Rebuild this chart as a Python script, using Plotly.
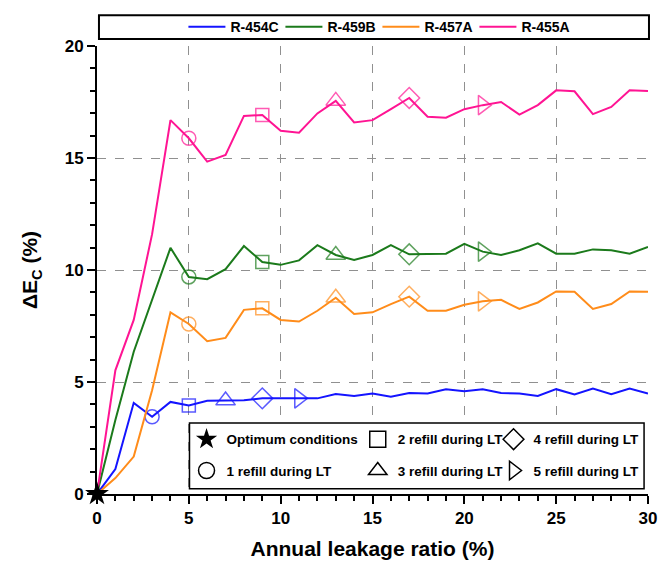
import plotly.graph_objects as go

# ---------------- data ----------------
leak = list(range(0, 31))
r454c = [0, 1.11, 4.07, 3.45, 4.11, 3.95, 4.16, 4.17, 4.19, 4.27, 4.27, 4.27, 4.27, 4.46, 4.38, 4.49,
         4.34, 4.51, 4.49, 4.68, 4.59, 4.68, 4.51, 4.49, 4.38, 4.68, 4.44, 4.71, 4.46, 4.71, 4.49]
r459b = [0, 3.3, 6.35, 8.72, 10.99, 9.69, 9.59, 10.04, 11.07, 10.36, 10.23, 10.43, 11.11, 10.67, 10.45, 10.67,
         11.11, 10.70, 10.73, 10.73, 11.17, 10.82, 10.67, 10.88, 11.19, 10.73, 10.73, 10.92, 10.88, 10.73, 11.03]
r457a = [0, 0.71, 1.67, 4.63, 8.11, 7.59, 6.82, 6.97, 8.22, 8.29, 7.77, 7.70, 8.18, 8.76, 8.04, 8.11,
         8.48, 8.81, 8.18, 8.18, 8.45, 8.60, 8.67, 8.26, 8.55, 9.04, 9.03, 8.26, 8.48, 9.04, 9.03]
r455a = [0, 5.52, 7.77, 11.6, 16.69, 15.88, 14.84, 15.14, 16.88, 16.92, 16.22, 16.13, 16.99, 17.55, 16.59, 16.69,
         17.18, 17.68, 16.84, 16.80, 17.18, 17.36, 17.50, 16.94, 17.36, 18.02, 17.98, 16.96, 17.28, 18.02, 17.99]

series_names = ["R-454C", "R-459B", "R-457A", "R-455A"]
series_values = [r454c, r459b, r457a, r455a]
series_colors = ["#1414ff", "#1b7a1b", "#ff8c1a", "#ff1493"]
# indices (leakage ratio) where refill markers are drawn
refill_idx = [[3, 5, 7, 9, 11], [5, 9, 13, 17, 21], [5, 9, 13, 17, 21], [5, 9, 13, 17, 21]]
refill_symbols = ["circle-open", "square-open", "triangle-up-open", "diamond-open", "triangle-right-open"]
refill_sizes = [14, 13, 17, 16, 17]

legend_labels = ["Optimum conditions", "1 refill during LT", "2 refill during LT",
                 "3 refill during LT", "4 refill during LT", "5 refill during LT"]
legend_symbols = ["star", "circle-open", "square-open", "triangle-up-open", "diamond-open", "triangle-right-open"]

FONT = "Liberation Sans, Arial, sans-serif"

fig = go.Figure()

for name, vals, col, idx in zip(series_names, series_values, series_colors, refill_idx):
    fig.add_trace(go.Scatter(x=leak, y=vals, mode="lines", name=name,
                             line=dict(color=col, width=2), legend="legend"))
    fig.add_trace(go.Scatter(x=[leak[i] for i in idx], y=[vals[i] for i in idx], mode="markers",
                             showlegend=False, cliponaxis=False,
                             marker=dict(symbol=refill_symbols, size=refill_sizes, color=col,
                                         line=dict(color=col, width=1.5))))

# optimum point
fig.add_trace(go.Scatter(x=[leak[0]], y=[r454c[0]], mode="markers", name=legend_labels[0],
                         marker=dict(symbol="star", size=18, color="black"),
                         cliponaxis=False, legend="legend2"))

# legend-only entries for refill markers
leg_ids = ["legend3", "legend4", "legend5", "legend6", "legend7"]
for lab, sym, lid in zip(legend_labels[1:], legend_symbols[1:], leg_ids):
    fig.add_trace(go.Scatter(x=[None], y=[None], mode="markers", name=lab,
                             marker=dict(symbol=sym, size=16, color="black", line=dict(color="black", width=1.5)),
                             legend=lid))

def px_x(p):
    return (p - 97) / 560.0

def px_y(p):
    return (494.4 - p) / 450.4

leg_font = dict(family=FONT, size=13.5, color="black", weight="bold")
small_leg = dict(bgcolor="rgba(0,0,0,0)", borderwidth=0, font=leg_font, xanchor="left", yanchor="middle")

axis_common = dict(showline=True, linecolor="black", linewidth=2, zeroline=False,
                   tickfont=dict(family=FONT, size=17, color="black", weight="bold"))

fig.update_layout(
    width=668, height=568,
    margin=dict(l=97, r=11, t=44, b=74),
    paper_bgcolor="white", plot_bgcolor="white",
    font=dict(family=FONT, color="black"),
    xaxis=dict(range=[0, 30], dtick=5, tick0=0, ticks="outside", ticklen=8, tickwidth=1.5, tickcolor="black",
               showgrid=True, gridcolor="#909090", griddash="dash", gridwidth=1,
               minor=dict(dtick=1, ticks="outside", ticklen=5, tickwidth=1.5, tickcolor="black", showgrid=False),
               title=dict(text="Annual leakage ratio (%)",
                          font=dict(family=FONT, size=21, weight="bold"), standoff=14),
               **axis_common),
    yaxis=dict(range=[0, 20], dtick=5, tick0=0, ticks="outside", ticklen=8, tickwidth=1.5, tickcolor="black",
               showgrid=True, gridcolor="#909090", griddash="dash", gridwidth=1,
               minor=dict(dtick=1, ticks="outside", ticklen=5, tickwidth=1.5, tickcolor="black", showgrid=False),
               title=dict(text="ΔE<sub>C</sub> (%)", font=dict(family=FONT, size=21, weight="bold"), standoff=21),
               **axis_common),
    xaxis2=dict(range=[0, 30], overlaying="x", side="top", anchor="y", dtick=5, tick0=0, ticks="inside",
                ticklen=6, tickwidth=1.5, tickcolor="black", showticklabels=False, showgrid=False,
                minor=dict(dtick=1, ticks="inside", ticklen=5, tickwidth=1.5, tickcolor="black"),
                showline=True, linecolor="black", linewidth=2, zeroline=False),
    yaxis2=dict(range=[0, 20], overlaying="y", side="right", anchor="x", dtick=5, tick0=0, ticks="inside",
                ticklen=6, tickwidth=1.5, tickcolor="black", showticklabels=False, showgrid=False,
                minor=dict(dtick=1, ticks="inside", ticklen=5, tickwidth=1.5, tickcolor="black"),
                showline=True, linecolor="black", linewidth=2, zeroline=False),
    legend=dict(orientation="h", x=px_x(382), xanchor="center", y=px_y(25), yanchor="middle",
                bgcolor="rgba(0,0,0,0)", borderwidth=0, itemwidth=37, entrywidth=45,
                font=dict(family=FONT, size=14, color="black", weight="bold"), itemclick=False),
    legend2=dict(x=px_x(188), y=px_y(439.5), **small_leg),
    legend3=dict(x=px_x(188), y=px_y(471), **small_leg),
    legend4=dict(x=px_x(362), y=px_y(439.5), **small_leg),
    legend5=dict(x=px_x(362), y=px_y(471), **small_leg),
    legend6=dict(x=px_x(500), y=px_y(439.5), **small_leg),
    legend7=dict(x=px_x(500), y=px_y(471), **small_leg),
    shapes=[
        dict(type="rect", xref="paper", yref="paper", x0=px_x(99), x1=px_x(658), y0=px_y(37), y1=px_y(13),
             line=dict(color="black", width=2), fillcolor="white", layer="below"),
        dict(type="rect", xref="paper", yref="paper", x0=px_x(191), x1=px_x(653), y0=px_y(489), y1=px_y(423),
             line=dict(color="black", width=1.5), fillcolor="white", layer="above"),
    ],
)

fig.write_html("out.html")
